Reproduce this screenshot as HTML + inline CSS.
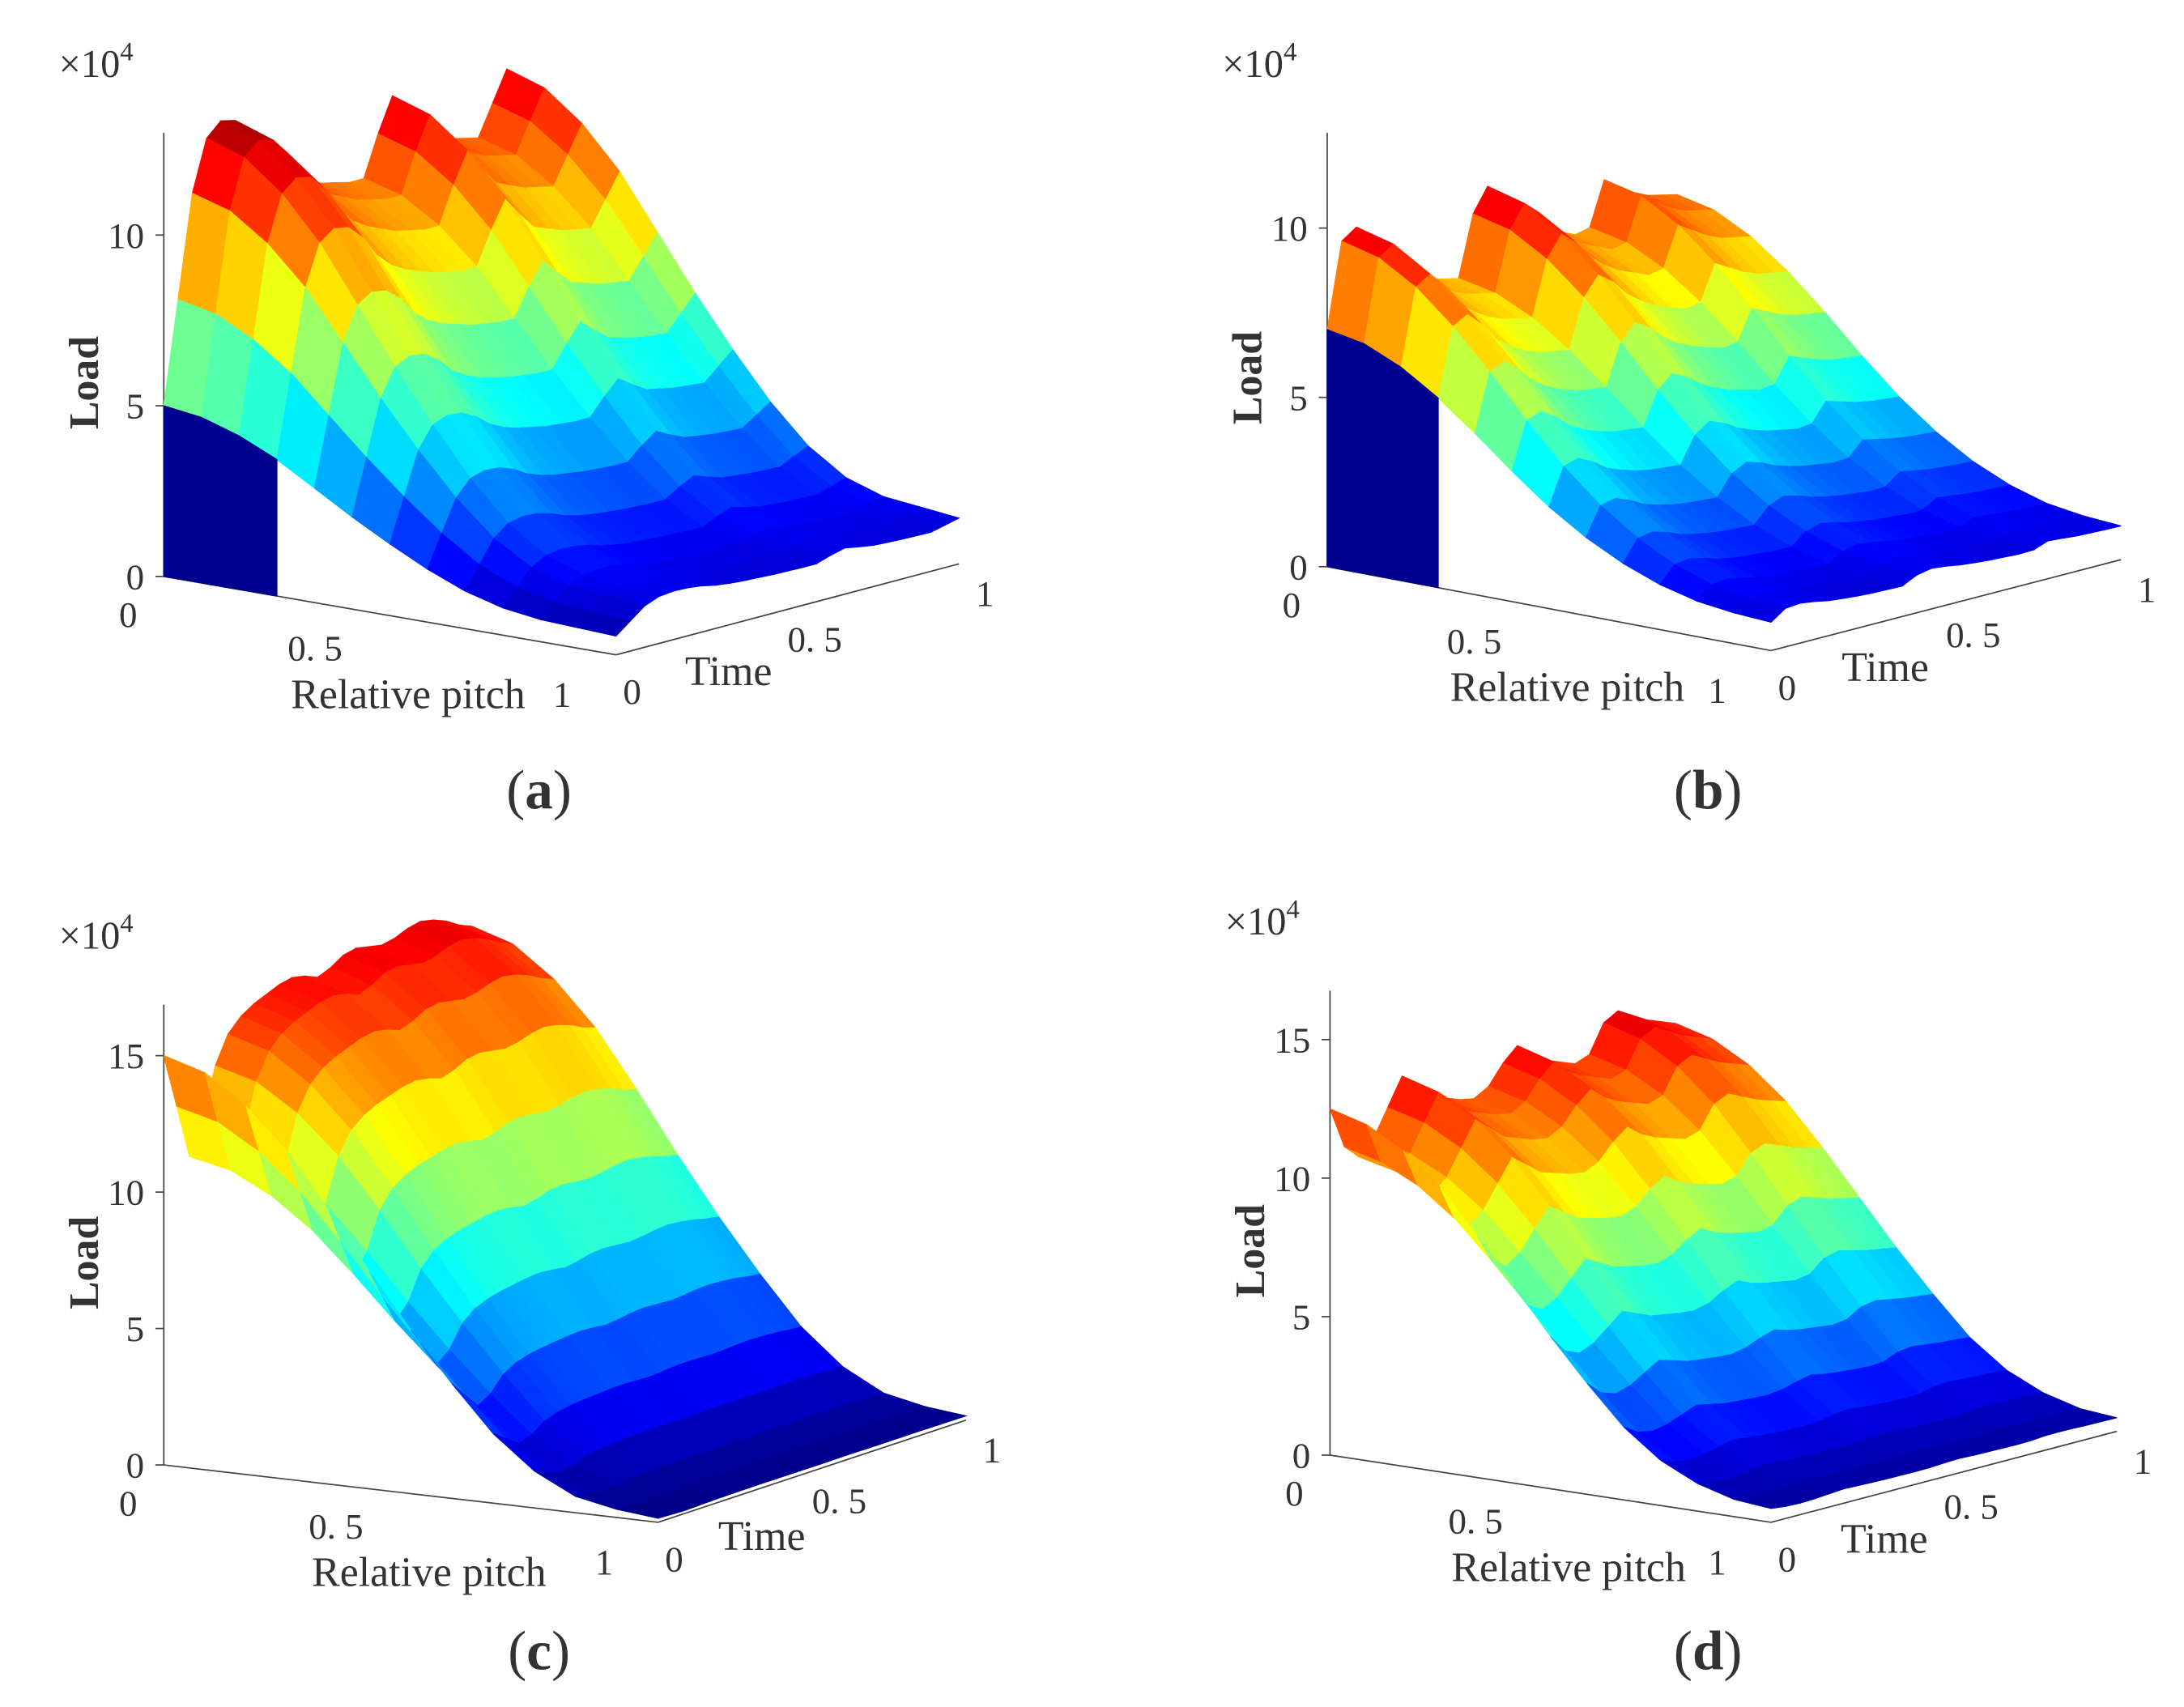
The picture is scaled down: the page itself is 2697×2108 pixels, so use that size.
<!DOCTYPE html>
<html><head><meta charset="utf-8">
<style>
html,body{margin:0;padding:0;background:#fff;}
svg{display:block;}
text{font-family:"Liberation Serif",serif;fill:#333;}
</style></head>
<body>
<svg id="fig" width="2697" height="2108" viewBox="0 0 1560 1220" preserveAspectRatio="none" xmlns="http://www.w3.org/2000/svg">
<rect width="1560" height="1220" fill="#fff"/>
</svg>
<script>
// Load data (x10^4) per panel: time modulation (25 samples over 0..1) and relative-pitch profile (13 samples over 0..1)
const timeA = [5,8,11,12.5,12.9,12.8,12.3,11.5,11,10.7,10.5,10.3,10.2,10.1,10.1,11.3,12.3,11.6,11.0,10.8,10.6,10.5,10.4,11.3,12.2];
const pitchA = [1,0.97,0.9,0.8,0.67,0.54,0.42,0.31,0.22,0.16,0.13,0.12,0.11];
const timeB = [7,9.5,9.8,9.3,8.6,8.2,7.9,7.7,7.6,7.5,9.3,10,9.6,9.0,8.6,8.3,8.1,7.9,8,9.3,9,8.7,8.5,8.4,8.3];
const pitchB = [1,0.97,0.9,0.8,0.68,0.55,0.43,0.33,0.25,0.19,0.15,0.13,0.12];
const timeC = [15,13,11,12,14,15,15.5,15.8,16,16.2,16.3,16.2,16,16.2,16.5,16.6,16.5,16.4,16.5,16.7,16.8,16.7,16.5,16.2,16];
const pitchC = [1,0.97,0.9,0.8,0.67,0.53,0.4,0.28,0.17,0.09,0.04,0.02,0.01];
const timeD = [12.5,11,10.5,11,12,13,12.5,12,11.8,11.6,11.5,11.8,12.5,13,12.5,12.2,12,11.8,12,13,13.3,13,12.7,12.5,12.3];
const pitchD = [1,0.97,0.91,0.82,0.7,0.57,0.44,0.32,0.21,0.13,0.08,0.05,0.04];
const zTicksAB = [0,5,10];
const zTicksCD = [0,5,10,15];

const panels = [
 {id:'a',time:timeA,pitch:pitchA,ticks:zTicksAB,wall:true,cmax:13.3,ox:117,oy:412,px:323,py:56,tx:245,ty:-65,zs:24.4,zTop:95,cap:[385,578]},
 {id:'b',time:timeB,pitch:pitchB,ticks:zTicksAB,wall:true,cmax:10.8,ox:948,oy:405,px:317,py:60,tx:250,ty:-65,zs:24.2,zTop:95,cap:[1220,578]},
 {id:'c',time:timeC,pitch:pitchC,ticks:zTicksCD,wall:false,cmax:18.5,ox:117,oy:1047,px:353,py:41,tx:220,ty:-73,zs:19.5,zTop:718,cap:[385,1193]},
 {id:'d',time:timeD,pitch:pitchD,ticks:zTicksCD,wall:false,cmax:14.5,ox:950,oy:1040,px:315,py:48,tx:247,ty:-65,zs:19.8,zTop:708,cap:[1220,1193]}
];
const NS='http://www.w3.org/2000/svg';
const svg=document.getElementById('fig');
function jet(v){v=Math.max(0,Math.min(1,v));
 const c=x=>Math.round(255*Math.max(0,Math.min(1,x)));
 return 'rgb('+c(1.5-Math.abs(4*v-3))+','+c(1.5-Math.abs(4*v-2))+','+c(1.5-Math.abs(4*v-1))+')';}
function mk(tag,attrs,parent){const e=document.createElementNS(NS,tag);for(const k in attrs)e.setAttribute(k,attrs[k]);(parent||svg).appendChild(e);return e;}
function txt(x,y,s,size,parent,extra){const t=mk('text',Object.assign({x:x,y:y,'font-size':size},extra||{}),parent);t.textContent=s;return t;}

panels.forEach(P=>{
 const g=mk('g',{});
 
 
 const proj=(p,t,z)=>[P.ox+p*P.px+t*P.tx, P.oy+p*P.py+t*P.ty-z*P.zs];
 const ax=mk('g',{stroke:'#444','stroke-width':1,fill:'none'},g);
 
 
 const p1=proj(1,0,0), t1=proj(1,1,0);
 mk('line',{x1:P.ox,y1:P.oy,x2:P.ox,y2:P.zTop},ax);
 mk('line',{x1:P.ox,y1:P.oy,x2:p1[0],y2:p1[1]},ax);
 mk('line',{x1:p1[0],y1:p1[1],x2:t1[0],y2:t1[1]},ax);
 const surf=mk('g',{},g);
 
 
 const nT=P.time.length, nP=P.pitch.length;
 for(let i=nT-2;i>=0;i--){
  for(let j=0;j<nP-1;j++){
   const t0=i/(nT-1),t1b=(i+1)/(nT-1),q0=j/(nP-1),q1=(j+1)/(nP-1);
   const z00=P.time[i]*P.pitch[j], z10=P.time[i+1]*P.pitch[j], z01=P.time[i]*P.pitch[j+1], z11=P.time[i+1]*P.pitch[j+1];
   const pts=[proj(q0,t0,z00),proj(q0,t1b,z10),proj(q1,t1b,z11),proj(q1,t0,z01)];
   const col=jet(((z00+z10+z01+z11)/4)/P.cmax);
   const poly=mk('polygon',{points:pts.map(a=>a[0].toFixed(1)+','+a[1].toFixed(1)).join(' '),fill:col,stroke:col,'stroke-width':0.7},surf);
   
   
  }
 }
 if(P.wall){
  const nW=4;
  const fp=[proj(0,0,0)];
  for(let j=0;j<nW;j++)fp.push(proj(j/(nP-1),0,P.time[0]*P.pitch[j]));
  fp.push(proj((nW-1)/(nP-1),0,0));
  const front=mk('polygon',{points:fp.map(a=>a[0].toFixed(1)+','+a[1].toFixed(1)).join(' '),fill:'#00008f',stroke:'#00008f','stroke-width':0.7},surf);
  
  
 }
 P.ticks.forEach(v=>{
  const y=P.oy-v*P.zs;
  mk('line',{x1:P.ox-6,y1:y,x2:P.ox,y2:y,stroke:'#444'},g);
  const t=txt(P.ox-14,y+9,String(v),26,g,{'text-anchor':'end'});
  
  
 });
 const mult=txt(P.ox-75,P.zTop-40,'×10',28,g);
 
 
 const ts=mk('tspan',{'font-size':19,dy:-12},mult);ts.textContent='4';
 const ly=(P.oy+P.zTop)/2+20;
 const load=txt(0,0,'Load',30,g,{transform:'translate('+(P.ox-47)+','+ly+') rotate(-90)','text-anchor':'middle','font-weight':'bold'});
 
 
 const l0=txt(P.ox-32,P.oy+36,'0',26,g);
 
 
 const pm=proj(0.5,0,0);
 const l5=txt(pm[0]-73,pm[1]+32,'0. 5',26,g);
 
 
 const l1=txt(p1[0]-45,p1[1]+37,'1',26,g);
 
 
 const rp=txt(pm[0]+13,pm[1]+66,'Relative pitch',30,g,{'text-anchor':'middle'});
 
 
 const tz=txt(p1[0]+5,p1[1]+35,'0',26,g);
 
 
 const tm=proj(1,0.5,0);
 const th=txt(tm[0],tm[1]+30,'0. 5',26,g);
 
 
 const to=txt(t1[0]+12,t1[1]+30,'1',26,g);
 
 
 const tq=proj(1,0.25,0);
 const tt=txt(tq[0]-12,tq[1]+38,'Time',30,g);
 
 
 const cap=txt(P.cap[0],P.cap[1],'',40,g,{'text-anchor':'middle'});
 
 
 const a=mk('tspan',{},cap);a.textContent='(';
 const b=mk('tspan',{'font-weight':'bold'},cap);b.textContent=P.id;
 const c=mk('tspan',{},cap);c.textContent=')';
});
</script>
</body></html>
